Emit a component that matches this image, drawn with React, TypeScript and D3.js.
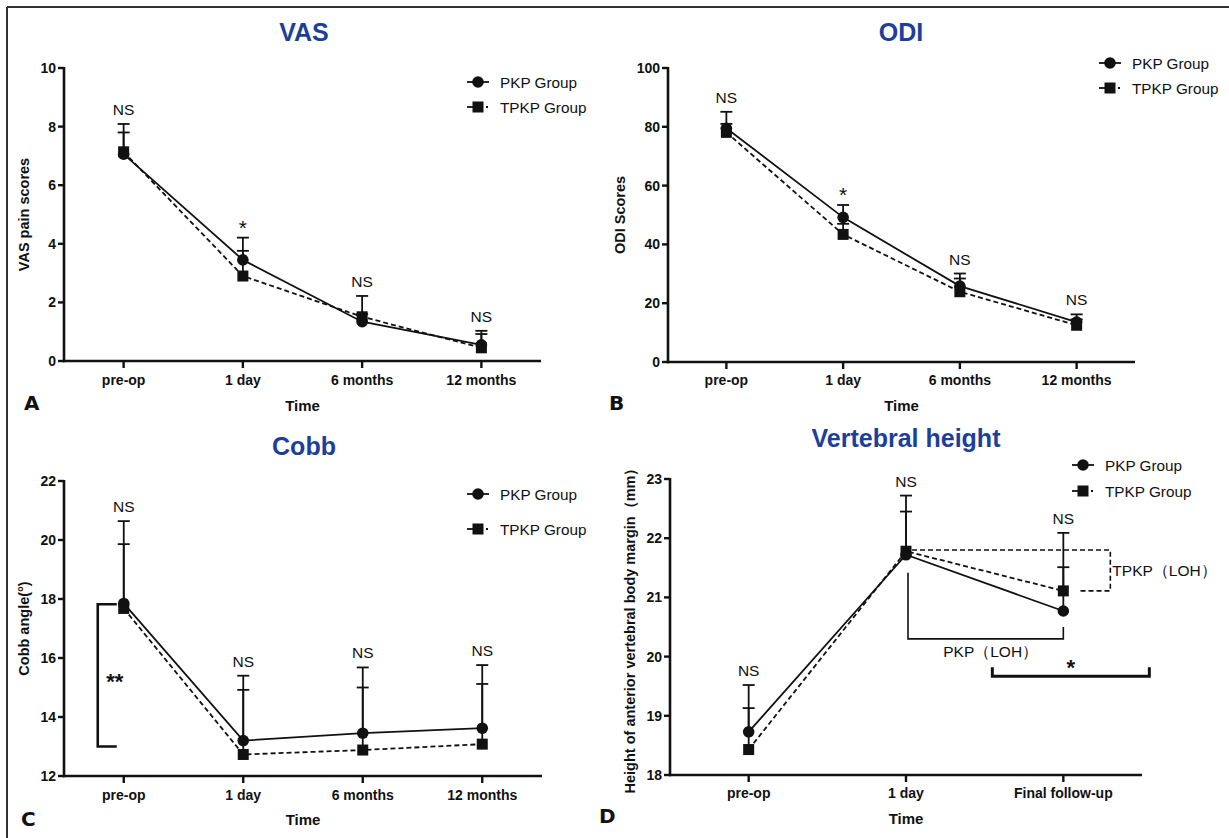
import React from 'react';
import * as d3 from 'd3';

// ---------- data ----------
const timeCats4 = ['pre-op', '1 day', '6 months', '12 months'];
const timeCats3 = ['pre-op', '1 day', 'Final follow-up'];

const vasPkp = [7.06, 3.45, 1.34, 0.55];
const vasTpkp = [7.14, 2.9, 1.51, 0.45];
const vasPkpUpper = [8.09, 4.21, 1.6, 1.03];
const vasTpkpUpper = [7.8, 3.76, 2.22, 0.92];
const vasSig = ['NS', '*', 'NS', 'NS'];
const vasTicks = [0, 2, 4, 6, 8, 10];

const odiPkp = [79.5, 49.2, 25.8, 13.6];
const odiTpkp = [78.1, 43.4, 23.9, 12.5];
const odiPkpUpper = [85.1, 53.4, 30.1, 16.2];
const odiTpkpUpper = [81.0, 47.0, 28.4, 14.5];
const odiSig = ['NS', '*', 'NS', 'NS'];
const odiTicks = [0, 20, 40, 60, 80, 100];

const cobbPkp = [17.85, 13.2, 13.45, 13.62];
const cobbTpkp = [17.68, 12.73, 12.88, 13.08];
const cobbPkpUpper = [20.64, 15.4, 15.68, 15.76];
const cobbTpkpUpper = [19.86, 14.92, 15.0, 15.12];
const cobbSig = ['NS', 'NS', 'NS', 'NS'];
const cobbTicks = [12, 14, 16, 18, 20, 22];
const cobbBracket = [17.82, 13.0];

const heightPkp = [18.73, 21.72, 20.77];
const heightTpkp = [18.43, 21.78, 21.11];
const heightPkpUpper = [19.52, 22.72, 22.09];
const heightTpkpUpper = [19.13, 22.45, 21.51];
const heightSig = ['NS', 'NS', 'NS'];
const heightTicks = [18, 19, 20, 21, 22, 23];

const legendNames = ['PKP Group', 'TPKP Group'];

// ---------- style ----------
const FONT = '"Liberation Sans", Arial, Helvetica, sans-serif';
const BLUE = '#1c3f9b';
const INK = '#111';

type Layout = {
  left: number; right: number; top: number; bottom: number;
  title: string; titleX: number; titleY: number;
  yLabel: string; yLabelX: number;
  tickY: number; timeY: number;
  letter: string; letterX: number; letterY: number;
  legendX: number; legendY1: number; legendY2: number;
};

type PanelProps = {
  L: Layout;
  cats: string[];
  domain: [number, number];
  ticks: number[];
  pkp: number[]; tpkp: number[];
  pkpUp: number[]; tpkpUp: number[];
  sig: string[];
  children?: (x: d3.ScalePoint<string>, y: d3.ScaleLinear<number, number>) => React.ReactNode;
};

function Panel({ L, cats, domain, ticks, pkp, tpkp, pkpUp, tpkpUp, sig, children }: PanelProps) {
  const x = d3.scalePoint<string>().domain(cats).range([L.left, L.right]).padding(0.5);
  const y = d3.scaleLinear().domain(domain).range([L.bottom, L.top]);
  const line = d3.line<number>().x((_, i) => x(cats[i]) as number).y((d) => y(d));
  const cap = 6;
  const yMid = (L.top + L.bottom) / 2;
  return (
    <g>
      {/* title */}
      <text x={L.titleX} y={L.titleY} textAnchor="middle" fontFamily={FONT} fontWeight="bold" fontSize={25} fill={BLUE}>{L.title}</text>
      {/* y label */}
      <text transform={`translate(${L.yLabelX},${yMid}) rotate(-90)`} textAnchor="middle" fontFamily={FONT} fontWeight="bold" fontSize={14.5} fill={INK} dy={5}>{L.yLabel}</text>
      {/* axes */}
      <line x1={L.left} x2={L.left} y1={L.top - 1} y2={L.bottom + 1.2} stroke={INK} strokeWidth={2.6} />
      <line x1={L.left - 1.2} x2={L.right} y1={L.bottom} y2={L.bottom} stroke={INK} strokeWidth={2.6} />
      {ticks.map((t) => (
        <g key={'yt' + t}>
          <line x1={L.left - 6} x2={L.left} y1={y(t)} y2={y(t)} stroke={INK} strokeWidth={2.4} />
          <text x={L.left - 8} y={y(t) + 5} textAnchor="end" fontFamily={FONT} fontWeight="bold" fontSize={14} fill={INK}>{t}</text>
        </g>
      ))}
      {cats.map((c) => (
        <g key={'xt' + c}>
          <line x1={x(c)} x2={x(c)} y1={L.bottom} y2={L.bottom + 7} stroke={INK} strokeWidth={2.4} />
          <text x={x(c)} y={L.tickY} textAnchor="middle" fontFamily={FONT} fontWeight="bold" fontSize={14} fill={INK}>{c}</text>
        </g>
      ))}
      <text x={(L.left + L.right) / 2} y={L.timeY} textAnchor="middle" fontFamily={FONT} fontWeight="bold" fontSize={15} fill={INK}>Time</text>
      <text x={L.letterX} y={L.letterY} fontFamily={'"DejaVu Sans", "Liberation Sans", sans-serif'} fontWeight="bold" fontSize={20} fill={INK}>{L.letter}</text>
      {/* lines */}
      <path d={line(pkp) || ''} fill="none" stroke={INK} strokeWidth={1.8} />
      <path d={line(tpkp) || ''} fill="none" stroke={INK} strokeWidth={1.8} strokeDasharray="5,3" />
      {/* error bars */}
      {cats.map((c, i) => (
        <g key={'eb' + c} stroke={INK} strokeWidth={1.8}>
          <line x1={x(c)} x2={x(c)} y1={y(pkp[i])} y2={y(pkpUp[i])} />
          <line x1={(x(c) as number) - cap} x2={(x(c) as number) + cap} y1={y(pkpUp[i])} y2={y(pkpUp[i])} />
          <line x1={x(c)} x2={x(c)} y1={y(tpkp[i])} y2={y(tpkpUp[i])} />
          <line x1={(x(c) as number) - cap} x2={(x(c) as number) + cap} y1={y(tpkpUp[i])} y2={y(tpkpUp[i])} />
        </g>
      ))}
      {/* markers */}
      {cats.map((c, i) => (
        <g key={'mk' + c} fill={INK}>
          <rect x={(x(c) as number) - 5.5} y={y(tpkp[i]) - 5.5} width={11} height={11} />
          <circle cx={x(c)} cy={y(pkp[i])} r={5.8} />
        </g>
      ))}
      {/* significance */}
      {cats.map((c, i) => {
        const top = Math.min(y(pkpUp[i]), y(tpkpUp[i]));
        const star = sig[i] === '*';
        return (
          <text key={'sg' + c} x={x(c)} y={top - 9} textAnchor="middle" fontFamily={FONT} fontSize={star ? 21 : 15.5} fill={INK} dy={star ? 6 : 0}>{sig[i]}</text>
        );
      })}
      {/* legend */}
      <g stroke={INK} strokeWidth={1.8}>
        <line x1={L.legendX - 11} x2={L.legendX + 11} y1={L.legendY1} y2={L.legendY1} />
        <line x1={L.legendX - 11} x2={L.legendX - 4} y1={L.legendY2} y2={L.legendY2} />
        <line x1={L.legendX + 8} x2={L.legendX + 10} y1={L.legendY2} y2={L.legendY2} />
      </g>
      <circle cx={L.legendX} cy={L.legendY1} r={5.8} fill={INK} />
      <rect x={L.legendX - 5.5} y={L.legendY2 - 5.5} width={11} height={11} fill={INK} />
      <text x={L.legendX + 22} y={L.legendY1 + 5.5} fontFamily={FONT} fontSize={15.3} fill={INK}>{legendNames[0]}</text>
      <text x={L.legendX + 22} y={L.legendY2 + 5.5} fontFamily={FONT} fontSize={15.3} fill={INK}>{legendNames[1]}</text>
      {children ? children(x, y) : null}
    </g>
  );
}

const LA: Layout = {
  left: 64, right: 541, top: 68, bottom: 361,
  title: 'VAS', titleX: 304, titleY: 41,
  yLabel: 'VAS pain scores', yLabelX: 24,
  tickY: 385, timeY: 410.5,
  letter: 'A', letterX: 24, letterY: 410,
  legendX: 478, legendY1: 82, legendY2: 107,
};
const LB: Layout = {
  left: 668, right: 1135, top: 68, bottom: 362,
  title: 'ODI', titleX: 901, titleY: 41,
  yLabel: 'ODI Scores', yLabelX: 620,
  tickY: 385, timeY: 410.5,
  letter: 'B', letterX: 609, letterY: 410,
  legendX: 1110, legendY1: 63, legendY2: 88,
};
const LC: Layout = {
  left: 64, right: 542, top: 481, bottom: 776,
  title: 'Cobb', titleX: 304, titleY: 455,
  yLabel: 'Cobb angle(°)', yLabelX: 24,
  tickY: 800, timeY: 825,
  letter: 'C', letterX: 21, letterY: 826,
  legendX: 478, legendY1: 494, legendY2: 529,
};
const LD: Layout = {
  left: 670, right: 1142, top: 479, bottom: 775,
  title: 'Vertebral height', titleX: 906, titleY: 447,
  yLabel: 'Height of anterior vertebral body margin（mm）', yLabelX: 630,
  tickY: 798, timeY: 824,
  letter: 'D', letterX: 599, letterY: 823,
  legendX: 1083, legendY1: 465, legendY2: 491,
};

export default function App() {
  return (
    <div style={{ position: 'fixed', left: 0, top: 0, width: 1229, height: 838, background: '#fff' }}>
      <svg width={1229} height={838} viewBox="0 0 1229 838" style={{ display: 'block' }}>
        <rect x={0} y={0} width={1229} height={838} fill="#fff" />
        <line x1={7} x2={1229} y1={7} y2={7} stroke="#333" strokeWidth={2} />
        <line x1={7} x2={7} y1={7} y2={838} stroke="#333" strokeWidth={2} />

        <Panel L={LA} cats={timeCats4} domain={[0, 10]} ticks={vasTicks}
          pkp={vasPkp} tpkp={vasTpkp} pkpUp={vasPkpUpper} tpkpUp={vasTpkpUpper} sig={vasSig} />
        <Panel L={LB} cats={timeCats4} domain={[0, 100]} ticks={odiTicks}
          pkp={odiPkp} tpkp={odiTpkp} pkpUp={odiPkpUpper} tpkpUp={odiTpkpUpper} sig={odiSig} />
        <Panel L={LC} cats={timeCats4} domain={[12, 22]} ticks={cobbTicks}
          pkp={cobbPkp} tpkp={cobbTpkp} pkpUp={cobbPkpUpper} tpkpUp={cobbTpkpUpper} sig={cobbSig}>
          {(x, y) => {
            const bx = (x(timeCats4[0]) as number) - 26;
            return (
              <g>
                <path d={`M${bx + 19},${y(cobbBracket[0])} H${bx} V${y(cobbBracket[1])} H${bx + 19}`} fill="none" stroke={INK} strokeWidth={2.6} />
                <text x={bx + 17} y={(y(cobbBracket[0]) + y(cobbBracket[1])) / 2 + 14} textAnchor="middle" fontFamily={FONT} fontWeight="bold" fontSize={22} fill={INK}>**</text>
              </g>
            );
          }}
        </Panel>
        <Panel L={LD} cats={timeCats3} domain={[18, 23]} ticks={heightTicks}
          pkp={heightPkp} tpkp={heightTpkp} pkpUp={heightPkpUpper} tpkpUp={heightTpkpUpper} sig={heightSig}>
          {(x, y) => {
            const x1 = x(timeCats3[1]) as number;
            const x2 = x(timeCats3[2]) as number;
            const yT1 = y(heightTpkp[1] + 0.02);
            const yT2 = y(heightTpkp[2]);
            const bRight = x2 + 47;
            const pTop = y(heightPkp[1]) + 18;
            const pBottom = y(20.3);
            const pRightTop = y(20.5);
            const sY = y(19.67);
            const sL = x2 - 71;
            const sR = x2 + 86;
            return (
              <g>
                <path d={`M${x1 + 6},${yT1} H${bRight} V${yT2} H${x2 + 16}`} fill="none" stroke={INK} strokeWidth={1.6} strokeDasharray="5,3" />
                <text x={bRight + 2} y={(yT1 + yT2) / 2 + 5.5} fontFamily={FONT} fontSize={15.5} fill={INK}>TPKP（LOH）</text>
                <path d={`M${x1 + 2},${pTop} V${pBottom} H${x2} V${pRightTop}`} fill="none" stroke={INK} strokeWidth={1.6} />
                <text x={(x1 + x2) / 2 + 6} y={pBottom + 18} textAnchor="middle" fontFamily={FONT} fontSize={15.5} fill={INK}>PKP（LOH）</text>
                <path d={`M${sL},${sY - 9} V${sY} H${sR} V${sY - 9}`} fill="none" stroke={INK} strokeWidth={3} />
                <text x={(sL + sR) / 2} y={sY - 1} textAnchor="middle" fontFamily={FONT} fontWeight="bold" fontSize={22} fill={INK}>*</text>
              </g>
            );
          }}
        </Panel>
      </svg>
    </div>
  );
}
